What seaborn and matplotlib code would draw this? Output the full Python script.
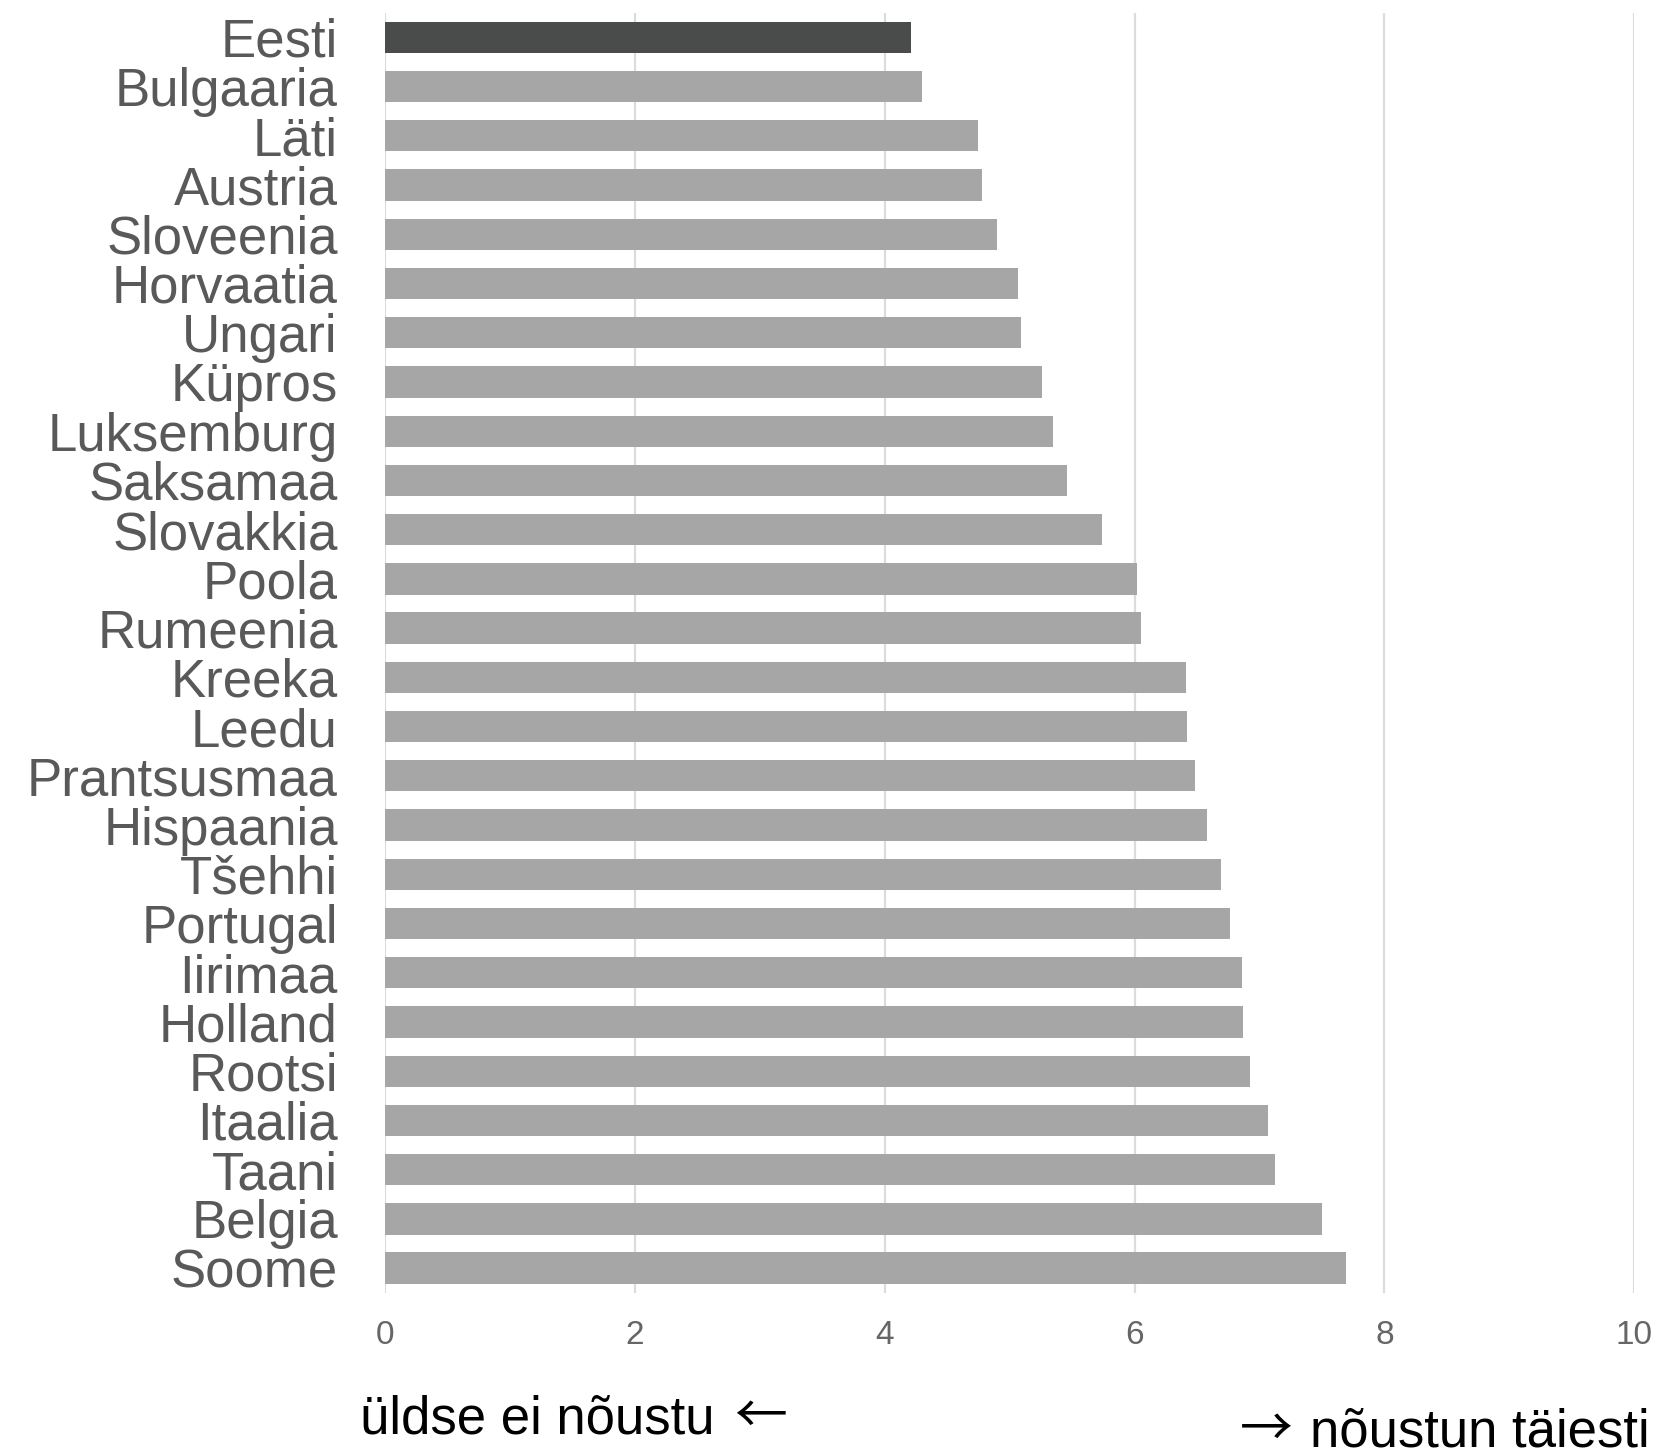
import matplotlib
matplotlib.use("Agg")
import matplotlib.pyplot as plt
import seaborn as sns
import pandas as pd

countries = ["Eesti", "Bulgaaria", "Läti", "Austria", "Sloveenia", "Horvaatia", "Ungari",
             "Küpros", "Luksemburg", "Saksamaa", "Slovakkia", "Poola", "Rumeenia", "Kreeka",
             "Leedu", "Prantsusmaa", "Hispaania", "Tšehhi", "Portugal", "Iirimaa", "Holland",
             "Rootsi", "Itaalia", "Taani", "Belgia", "Soome"]
values = [4.21, 4.30, 4.75, 4.78, 4.90, 5.07, 5.09, 5.26, 5.35, 5.46, 5.74, 6.02, 6.05, 6.41,
          6.42, 6.48, 6.58, 6.69, 6.76, 6.86, 6.87, 6.92, 7.07, 7.12, 7.50, 7.69]
xticks = [0, 2, 4, 6, 8, 10]
left_label = "üldse ei nõustu"
left_arrow = "←"
right_label = "nõustun täiesti"
right_arrow = "→"

highlight = "Eesti"
colors = {c: ("#4A4B4B" if c == highlight else "#A6A6A6") for c in countries}

sns.set_theme(style="white")
plt.rcParams["font.family"] = ["Liberation Sans", "DejaVu Sans"]

df = pd.DataFrame({"country": countries, "value": values})

W, H = 1665, 1448
fig = plt.figure(figsize=(W / 100, H / 100), dpi=100)
ax = fig.add_axes([385 / W, 1 - 1292.7 / H, (1634.3 - 385) / W, (1292.7 - 12.7) / H])

for t in xticks:
    ax.axvline(t, color="#DCDCDC", lw=1.6, zorder=0)

sns.barplot(data=df, x="value", y="country", hue="country", palette=colors, legend=False,
            orient="h", width=0.636, saturation=1, linewidth=0, ax=ax, zorder=2)

ax.set_xlim(0, 10)
ax.set_ylim(len(countries) - 0.5, -0.5)
ax.set_xticks(xticks)
ax.set_xticklabels([str(t) for t in xticks])
ax.set_xlabel("")
ax.set_ylabel("")
for s in ax.spines.values():
    s.set_visible(False)
ax.tick_params(axis="y", length=0, pad=34, labelsize=38, labelcolor="#595959")
ax.tick_params(axis="x", length=0, pad=20, labelsize=24, labelcolor="#666666")
ax.grid(False)

arrow_font = ["Noto Sans CJK SC", "DejaVu Sans"]
yl = 1 - 1433.3 / H
yr = 1 - 1446.2 / H
t1 = fig.text(0.216, yl, left_label, ha="left", va="baseline", fontsize=38, color="black")
t2 = fig.text(0.991, yr, right_label, ha="right", va="baseline", fontsize=38, color="black")
fig.canvas.draw()
r = fig.canvas.get_renderer()
b1 = t1.get_window_extent(r)
b2 = t2.get_window_extent(r)
fig.text((b1.x1 + 20) / W, yl, left_arrow, ha="left", va="baseline", fontsize=38,
         color="black", family=arrow_font)
fig.text((b2.x0 - 18) / W, yr, right_arrow, ha="right", va="baseline", fontsize=38,
         color="black", family=arrow_font)

fig.savefig("out.png", dpi=100)
